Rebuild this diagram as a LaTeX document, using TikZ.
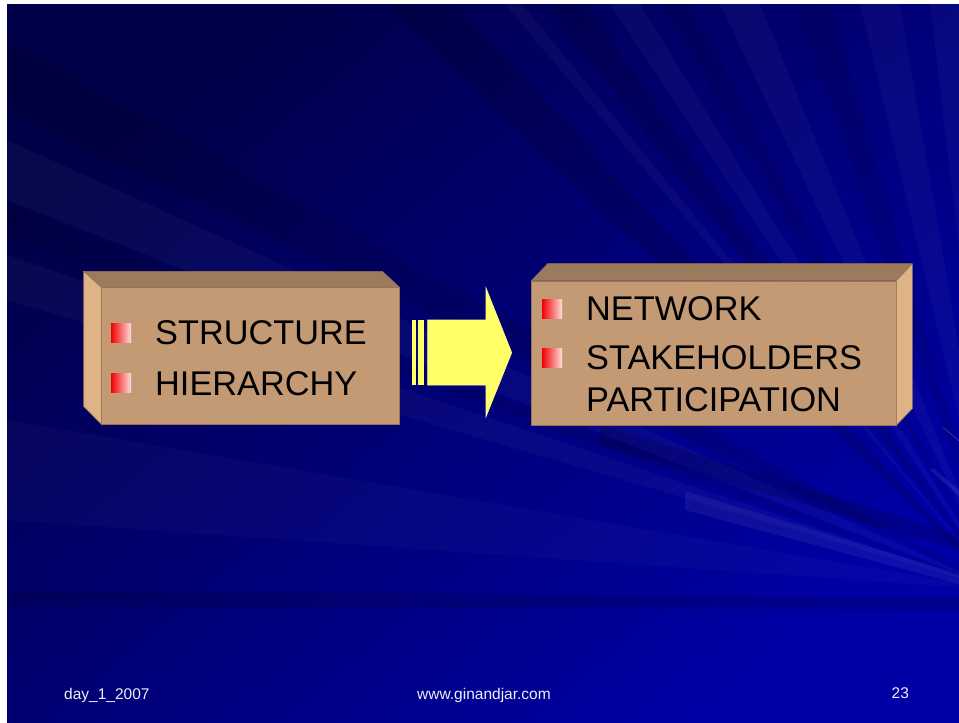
\documentclass[tikz,border=0pt]{standalone}
\usepackage{fontspec}
\setmainfont{Liberation Sans}
\definecolor{bgdark}{RGB}{0,0,72}
\definecolor{bgblue}{RGB}{0,0,165}
\definecolor{boxfront}{RGB}{196,154,116}
\definecolor{boxtop}{RGB}{154,124,92}
\definecolor{boxside}{RGB}{222,180,134}
\definecolor{boxedge}{RGB}{150,115,85}
\definecolor{arrowyel}{RGB}{255,255,102}
\definecolor{foottext}{RGB}{238,238,245}
\definecolor{bulred}{RGB}{240,0,0}
\definecolor{bulpale}{RGB}{255,220,220}
\begin{document}
\begin{tikzpicture}[x=1pt,y=-1pt,
  frontface/.style={fill=boxfront, draw=boxedge, line width=0.6pt, inner sep=0pt},
  topface/.style={fill=boxtop, draw=boxedge, line width=0.6pt, line join=round},
  sideface/.style={fill=boxside, draw=boxedge, line width=0.6pt, line join=round},
  itemtext/.style={anchor=base west, inner sep=0pt, font=\fontsize{34.3}{40}\selectfont, text=black},
  foottxt/.style={anchor=base west, inner sep=0pt, font=\fontsize{15.5}{18}\selectfont, text=foottext},
  bul/.style={minimum width=20pt, minimum height=19pt, inner sep=0pt, left color=bulred, middle color=red!95!white, right color=bulpale},
  lightray/.style={fill=white, fill opacity=0.03},
  darkray/.style={fill=black, fill opacity=0.13},
  yarrow/.style={fill=arrowyel, draw=yellow!40!white, line width=0.6pt}
]
\useasboundingbox (0,0) rectangle (959,723);
\fill[white] (0,0) rectangle (959,723);
\shade[top color=bgdark, bottom color=bgblue, shading angle=40] (7,4) rectangle (959,723);
% background rays
\begin{scope}
\clip (7,4) rectangle (959,723);
\coordinate (V) at (1000,590);
\fill[darkray] (V) -- (385,4) -- (455,4) -- cycle;
\fill[lightray] (V) -- (505,4) -- (522,4) -- cycle;
\fill[darkray] (V) -- (545,4) -- (585,4) -- cycle;
\fill[lightray] (V) -- (610,4) -- (640,4) -- cycle;
\fill[darkray, fill opacity=0.09] (V) -- (662,4) -- (690,4) -- cycle;
\fill[lightray] (V) -- (720,4) -- (760,4) -- cycle;
\fill[darkray, fill opacity=0.09] (V) -- (795,4) -- (830,4) -- cycle;
\fill[lightray] (V) -- (860,4) -- (900,4) -- cycle;
\fill[lightray] (V) -- (930,4) -- (959,4) -- cycle;
\fill[darkray, fill opacity=0.1] (V) -- (7,40) -- (7,110) -- cycle;
\fill[lightray] (V) -- (7,140) -- (7,200) -- cycle;
\fill[darkray, fill opacity=0.09] (V) -- (7,205) -- (7,235) -- cycle;
\fill[lightray] (V) -- (7,255) -- (7,300) -- cycle;
\fill[lightray, fill opacity=0.025] (V) -- (7,420) -- (7,520) -- cycle;
\fill[darkray, fill opacity=0.15] (600,425) -- (600,445) -- (959,550) -- (959,535) -- cycle;
\fill[white, fill opacity=0.06] (685,491) -- (685,510) -- (959,584) -- (959,574) -- cycle;
\fill[darkray, fill opacity=0.13] (7,590) -- (959,598) -- (959,610) -- (7,606) -- cycle;
\fill[white, fill opacity=0.08] (930,470) -- (933,468) -- (959,490) -- (959,496) -- cycle;
\draw[red!40!white, opacity=0.4, line width=0.5pt] (943,427) -- (959,441);
\end{scope}
% left box
\node[frontface, minimum width=297.6pt, minimum height=136.3pt] (lbox) at (250.5,355.85) {};
\draw[topface] (lbox.north west) -- ++(-17.7,-16) -- ++(298.7,0) -- (lbox.north east) -- cycle;
\draw[sideface] (lbox.north west) -- ++(-17.7,-16) -- ++(0,135) -- (lbox.south west) -- cycle;
\node[bul] (lb1) at (121,332.5) {};
\node[bul] (lb2) at (121,382.5) {};
\node[itemtext] (t1) at (155,344) {STRUCTURE};
\node[itemtext] (t2) at (155,395) {HIERARCHY};
% right box
\node[frontface, minimum width=364.3pt, minimum height=144pt] (rbox) at (713.85,353) {};
\draw[topface] (rbox.north west) -- ++(16.3,-17) -- ++(364,0) -- (rbox.north east) -- cycle;
\draw[sideface] (rbox.north east) -- ++(16,-17) -- ++(0,145) -- (rbox.south east) -- cycle;
\node[bul] (rb1) at (552,308.5) {};
\node[bul] (rb2) at (552,358) {};
\node[itemtext] (t3) at (586,320) {NETWORK};
\node[itemtext] (t4) at (586,369.3) {STAKEHOLDERS};
\node[itemtext] (t5) at (586,411.7) {PARTICIPATION};
% arrow
\fill[arrowyel] (412,320) rectangle (416,385);
\fill[arrowyel] (418.3,320) rectangle (424,385);
\draw[yarrow] (427.7,320) -- (486,320) -- (486,288) -- (511.7,352.7) -- (486,416.7) -- (486,385) -- (427.7,385) -- cycle;
% footer
\node[foottxt] (f1) at (64,699) {day\_1\_2007};
\node[foottxt] (f2) at (417,699) {www.ginandjar.com};
\node[foottxt] (f3) at (891.5,698) {23};
\end{tikzpicture}
\end{document}
